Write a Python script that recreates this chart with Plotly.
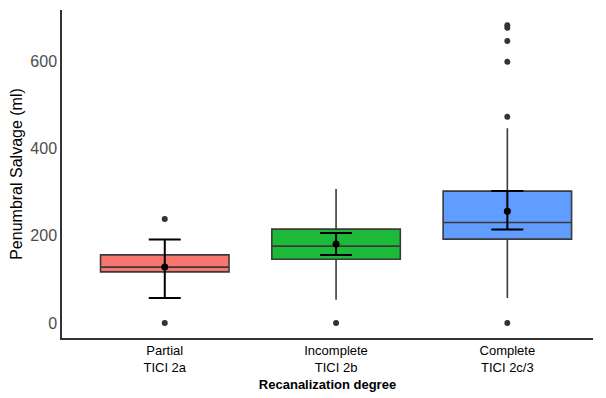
import plotly.graph_objects as go

categories = ["Partial<br>TICI 2a", "Incomplete<br>TICI 2b", "Complete<br>TICI 2c/3"]
q1 = [117, 146, 192]
median = [128, 176, 230]
q3 = [156, 215, 302]
lower_whisker = [117, 53, 57]
upper_whisker = [156, 307, 446]
means = [128, 181, 256]
ci_low = [57, 156, 214]
ci_high = [191, 206, 302]
outliers = [[0, 238], [0], [0, 472, 598, 646, 676, 682]]
colors = ["#F8766D", "#1CBA38", "#619CFF"]

fig = go.Figure()
for i, cat in enumerate(categories):
    fig.add_trace(go.Box(
        x=[cat], q1=[q1[i]], median=[median[i]], q3=[q3[i]],
        lowerfence=[lower_whisker[i]], upperfence=[upper_whisker[i]],
        fillcolor=colors[i], line=dict(color="#3a3a3a", width=1.6),
        width=0.75, boxpoints=False, showlegend=False, hoverinfo="skip",
        whiskerwidth=0,
    ))
    fig.add_trace(go.Scatter(
        x=[cat] * len(outliers[i]), y=outliers[i], mode="markers",
        marker=dict(color="#333333", size=6), showlegend=False,
    ))

fig.add_trace(go.Scatter(
    x=categories, y=means, mode="markers",
    marker=dict(color="black", size=7),
    error_y=dict(type="data", symmetric=False,
                 array=[h - m for h, m in zip(ci_high, means)],
                 arrayminus=[m - l for m, l in zip(means, ci_low)],
                 color="black", thickness=2, width=16),
    showlegend=False,
))

fig.update_layout(
    width=598, height=390,
    margin=dict(l=54, r=13, t=2, b=60),
    plot_bgcolor="white", paper_bgcolor="white",
    font=dict(family="Liberation Sans, Arial, sans-serif"),
    xaxis=dict(
        type="category", categoryorder="array", categoryarray=categories,
        range=[-0.6, 2.5], showline=True, linecolor="#333333", linewidth=1.5,
        showgrid=False, zeroline=False, ticks="",
        tickfont=dict(size=13, color="black"),
        title=dict(text="<b>Recanalization degree</b>", font=dict(size=13, color="black"), standoff=6),
    ),
    yaxis=dict(
        range=[-34.3, 716.7], tickvals=[0, 200, 400, 600],
        showline=True, linecolor="#333333", linewidth=1.5,
        showgrid=False, zeroline=False, ticks="",
        tickfont=dict(size=16, color="#4D4D4D"),
        title=dict(text="Penumbral Salvage (ml)", font=dict(size=16, color="black"), standoff=4),
    ),
)

fig.write_html("out.html")
